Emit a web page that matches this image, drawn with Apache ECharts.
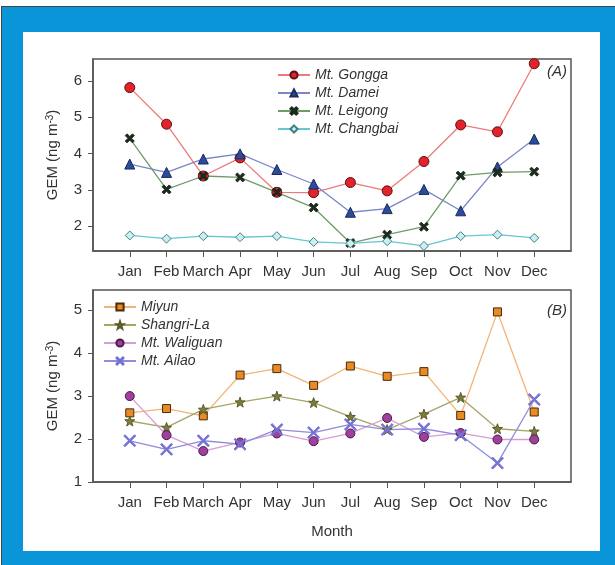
<!DOCTYPE html>
<html>
<head>
<meta charset="utf-8">
<script src="https://cdn.jsdelivr.net/npm/echarts@6/dist/echarts.min.js"></script>
<style>
  html, body { margin: 0; padding: 0; background: #fff; }
  #frame { position: absolute; left: 1px; top: 6px; width: 614px; height: 559px; background: #0a95d9; border-left: 1px solid #444; border-top: 1px solid #444; box-sizing: border-box; }
  #panel { position: absolute; left: 23px; top: 32px; width: 577px; height: 519px; background: #fff; }
  #chart { position: absolute; left: 0; top: 0; width: 615px; height: 565px; }
</style>
</head>
<body>
<div id="frame"></div>
<div id="panel"></div>
<div id="chart"></div>
<script>
const months = ['Jan', 'Feb', 'March', 'Apr', 'May', 'Jun', 'Jul', 'Aug', 'Sep', 'Oct', 'Nov', 'Dec'];

// (A) mountain sites
const gongga = [5.82, 4.81, 3.38, 3.88, 2.93, 2.92, 3.2, 2.97, 3.78, 4.79, 4.6, 6.48];
const damei = [3.71, 3.48, 3.85, 3.99, 3.56, 3.16, 2.38, 2.48, 3.01, 2.42, 3.63, 4.4];
const leigong = [4.42, 3.01, 3.38, 3.34, 2.93, 2.51, 1.53, 1.76, 1.98, 3.39, 3.48, 3.5];
const changbai = [1.74, 1.65, 1.72, 1.69, 1.72, 1.56, 1.52, 1.58, 1.45, 1.72, 1.76, 1.67];

// (B) other sites
const miyun = [2.61, 2.71, 2.54, 3.49, 3.64, 3.25, 3.7, 3.46, 3.57, 2.55, 4.96, 2.63];
const shangrila = [2.42, 2.27, 2.69, 2.86, 3.0, 2.85, 2.52, 2.22, 2.58, 2.97, 2.24, 2.18];
const waliguan = [3.0, 2.09, 1.72, 1.92, 2.13, 1.95, 2.13, 2.49, 2.05, 2.14, 1.99, 1.99];
const ailao = [1.96, 1.76, 1.96, 1.88, 2.22, 2.15, 2.34, 2.22, 2.24, 2.09, 1.44, 2.92];

const yTicksA = [2, 3, 4, 5, 6];
const yTicksB = [1, 2, 3, 4, 5];

const FONT = 'Liberation Sans, Arial, sans-serif';
const AXIS = '#555';
const monthIdx = months.map((m, i) => i);

const crossThick = 'path://M2,0 L5,3 L8,0 L10,2 L7,5 L10,8 L8,10 L5,7 L2,10 L0,8 L3,5 L0,2 Z';
const crossThin = 'path://M1,0 L5,4 L9,0 L10,1 L6,5 L10,9 L9,10 L5,6 L1,10 L0,9 L4,5 L0,1 Z';
const star = 'path://M10,0 L12.35,6.76 L19.51,6.91 L13.8,11.24 L15.88,18.09 L10,14 L4.12,18.09 L6.2,11.24 L0.49,6.91 L7.65,6.76 Z';

const chart = echarts.init(document.getElementById('chart'));

const xAxis = (gridIndex, withName) => ({
  type: 'value',
  gridIndex: gridIndex,
  min: -1,
  max: 12,
  name: withName ? 'Month' : '',
  nameLocation: 'middle',
  nameGap: 42,
  nameTextStyle: { fontFamily: FONT, fontSize: 15, color: '#333' },
  axisLine: { show: true, onZero: false, lineStyle: { color: AXIS, width: 1.5 } },
  axisTick: { show: true, inside: false, length: 6, customValues: monthIdx, lineStyle: { color: AXIS } },
  axisLabel: {
    customValues: monthIdx,
    margin: 13,
    fontFamily: FONT,
    fontSize: 15,
    color: '#333',
    formatter: v => months[v]
  },
  splitLine: { show: false }
});

const yAxis = (gridIndex, min, max, ticks) => ({
  type: 'value',
  gridIndex: gridIndex,
  min: min,
  max: max,
  name: 'GEM (ng m{sup|-3})',
  nameLocation: 'middle',
  nameGap: 33,
  nameTextStyle: {
    fontFamily: FONT,
    fontSize: 15,
    color: '#333',
    rich: { sup: { fontFamily: FONT, fontSize: 10, color: '#333', verticalAlign: 'top', lineHeight: 10 } }
  },
  axisLine: { show: true, onZero: false, lineStyle: { color: AXIS, width: 1.5 } },
  axisTick: { show: true, length: 5, customValues: ticks, lineStyle: { color: AXIS } },
  axisLabel: { customValues: ticks, margin: 11, fontFamily: FONT, fontSize: 15, color: '#333' },
  splitLine: { show: false }
});

const line = (name, data, idx, symbol, size, fill, border, lineColor) => ({
  name: name,
  type: 'line',
  xAxisIndex: idx,
  yAxisIndex: idx,
  data: data.map((v, i) => [i, v]),
  symbol: symbol,
  symbolSize: size,
  showAllSymbol: true,
  itemStyle: { color: fill, borderColor: border, borderWidth: 1, opacity: 1 },
  lineStyle: { color: lineColor, width: 1.3 },
  emphasis: { disabled: true },
  z: 3
});

const legendText = { fontFamily: FONT, fontSize: 14, fontStyle: 'italic', color: '#333' };

chart.setOption({
  animation: false,
  backgroundColor: 'transparent',
  grid: [
    { left: 93, right: 44, top: 59, height: 192, show: true, borderColor: AXIS, borderWidth: 1.5, backgroundColor: 'transparent' },
    { left: 93, right: 44, top: 290, height: 192, show: true, borderColor: AXIS, borderWidth: 1.5, backgroundColor: 'transparent' }
  ],
  legend: [
    {
      data: ['Mt. Gongga', 'Mt. Damei', 'Mt. Leigong', 'Mt. Changbai'],
      orient: 'vertical', left: 277, top: 68, padding: 0, itemWidth: 32, itemHeight: 9, itemGap: 4,
      textStyle: legendText, selectedMode: false
    },
    {
      data: ['Miyun', 'Shangri-La', 'Mt. Waliguan', 'Mt. Ailao'],
      orient: 'vertical', left: 103, top: 300, padding: 0, itemWidth: 32, itemHeight: 9, itemGap: 4,
      textStyle: legendText, selectedMode: false
    }
  ],
  xAxis: [xAxis(0, false), xAxis(1, true)],
  yAxis: [yAxis(0, 1.31, 6.61, yTicksA), yAxis(1, 1, 5.47, yTicksB)],
  graphic: [
    { type: 'text', right: 48, top: 64, style: { text: '(A)', fontFamily: FONT, fontSize: 15, fontStyle: 'italic', fill: '#333' } },
    { type: 'text', right: 48, top: 303, style: { text: '(B)', fontFamily: FONT, fontSize: 15, fontStyle: 'italic', fill: '#333' } }
  ],
  series: [
    line('Mt. Gongga', gongga, 0, 'circle', 10, '#e3222b', '#5a1010', '#ec7a7c'),
    line('Mt. Damei', damei, 0, 'triangle', 10, '#2b4c9c', '#1a2a5a', '#7a86c8'),
    line('Mt. Leigong', leigong, 0, crossThick, 9, '#1e2a1e', '#1e2a1e', '#6d9c68'),
    line('Mt. Changbai', changbai, 0, 'diamond', 9, '#cdeef0', '#3c7f86', '#66c6d2'),
    line('Miyun', miyun, 1, 'rect', 8, '#e98a25', '#4a2a08', '#f2b477'),
    line('Shangri-La', shangrila, 1, star, 10, '#7d7d3a', '#5a5a2a', '#a5a566'),
    line('Mt. Waliguan', waliguan, 1, 'circle', 9, '#a0409c', '#4a1a48', '#d99ad6'),
    line('Mt. Ailao', ailao, 1, crossThin, 12, '#7472d4', '#7472d4', '#8e8cdc')
  ]
});
</script>
</body>
</html>
